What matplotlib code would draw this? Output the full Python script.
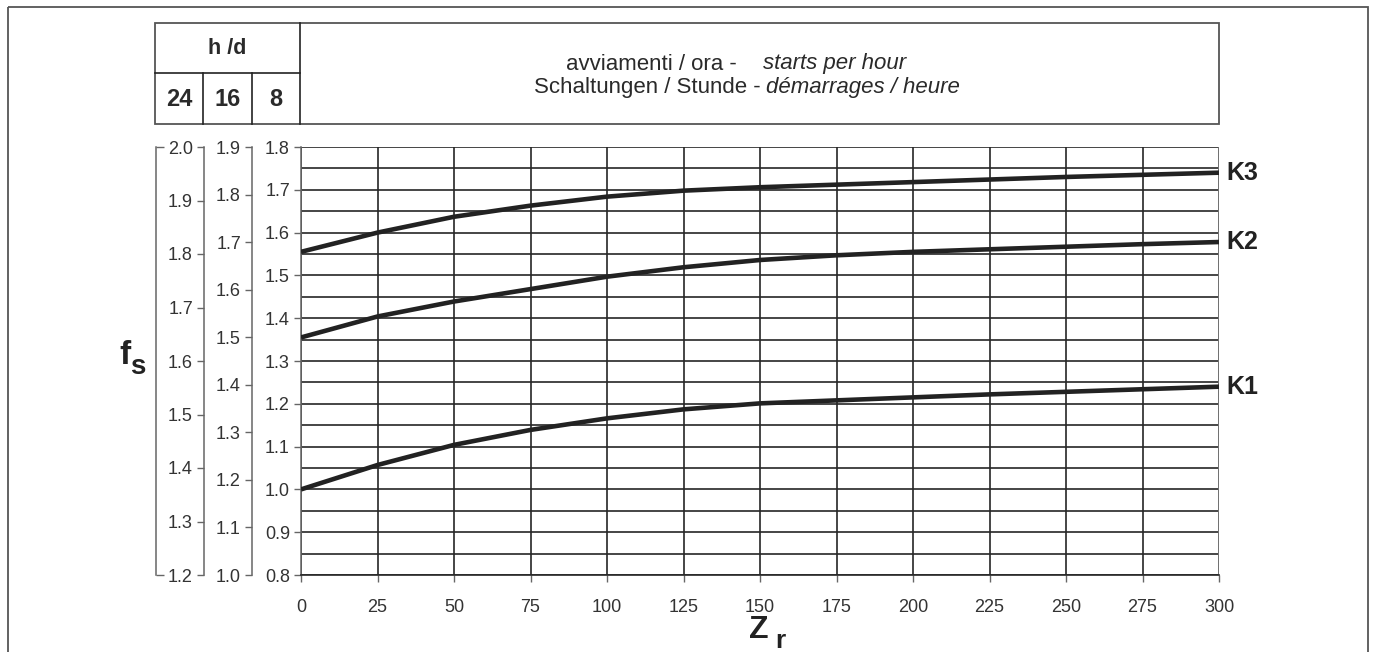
import matplotlib
matplotlib.use("Agg")
import matplotlib.pyplot as plt
from matplotlib.patches import Rectangle

# ------------------------------------------------------------
# Data
# ------------------------------------------------------------
zr = [0, 25, 50, 75, 100, 125, 150, 175, 200, 225, 250, 275, 300]
k1 = [1.000, 1.057, 1.104, 1.139, 1.166, 1.187, 1.201, 1.208, 1.215, 1.222, 1.228, 1.234, 1.240]
k2 = [1.355, 1.404, 1.439, 1.468, 1.497, 1.519, 1.536, 1.547, 1.555, 1.561, 1.567, 1.573, 1.578]
k3 = [1.555, 1.600, 1.637, 1.663, 1.684, 1.698, 1.706, 1.712, 1.718, 1.724, 1.730, 1.735, 1.740]
curve_names = ["K1", "K2", "K3"]

x_ticks = [0, 25, 50, 75, 100, 125, 150, 175, 200, 225, 250, 275, 300]
# three fs scales: 8 h/d (main), 16 h/d, 24 h/d
scale_8 = [0.8, 0.9, 1.0, 1.1, 1.2, 1.3, 1.4, 1.5, 1.6, 1.7, 1.8]
scale_16 = [1.0, 1.1, 1.2, 1.3, 1.4, 1.5, 1.6, 1.7, 1.8, 1.9]
scale_24 = [1.2, 1.3, 1.4, 1.5, 1.6, 1.7, 1.8, 1.9, 2.0]
hours = ["24", "16", "8"]

plt.rcParams['font.family'] = ['Liberation Sans', 'DejaVu Sans']

W, H = 1374, 652
fig = plt.figure(figsize=(W / 100, H / 100), dpi=100)

# background overlay in pixel coordinates for frame and header table
bg = fig.add_axes([0, 0, 1, 1], zorder=0)
bg.set_xlim(0, W)
bg.set_ylim(H, 0)
bg.axis('off')

frame_col = '#555555'
bg.add_patch(Rectangle((8, 7), 1360, 660, fill=False, ec=frame_col, lw=1.3))

# header table
tl, tr, tt, tm, tb = 155, 1219, 23, 73, 124
col_x = [155, 203, 252, 300]
bg.add_patch(Rectangle((tl, tt), tr - tl, tb - tt, fill=False, ec=frame_col, lw=1.3))
bg.plot([300, 300], [tt, tb], color='#222222', lw=1.2)
bg.plot([tl, 300], [tm, tm], color='#222222', lw=1.2)
for cx in col_x[1:3]:
    bg.plot([cx, cx], [tm, tb], color='#222222', lw=1.2)
bg.text((tl + 300) / 2, (tt + tm) / 2 + 1, "h /d", fontsize=15.5, fontweight='bold',
        ha='center', va='center', color='#2a2a2a')
for i, hval in enumerate(hours):
    bg.text((col_x[i] + col_x[i + 1]) / 2, (tm + tb) / 2 + 1, hval, fontsize=17,
            fontweight='bold', ha='center', va='center', color='#2a2a2a')

hdr = dict(fontsize=16, va='center', color='#2a2a2a')
bg.text(737, 64, "avviamenti / ora -", ha='right', **hdr)
bg.text(763, 64, "starts per hour", ha='left', style='italic', **hdr)
bg.text(761, 88, "Schaltungen / Stunde -", ha='right', **hdr)
bg.text(766, 88, "démarrages / heure", ha='left', style='italic', **hdr)

# axis labels
bg.text(119, 356, "f", fontsize=24, fontweight='bold', ha='left', va='center', color='#222222')
bg.text(130, 367, "s", fontsize=20, fontweight='bold', ha='left', va='center', color='#222222')
bg.text(749, 630, "Z", fontsize=23, fontweight='bold', ha='left', va='center', color='#222222')
bg.text(775, 641, "r", fontsize=19, fontweight='bold', ha='left', va='center', color='#222222')

# ------------------------------------------------------------
# Main plot
# ------------------------------------------------------------
x0, x1, y0, y1 = 301, 1219, 147, 575
pos = [x0 / W, (H - y1) / H, (x1 - x0) / W, (y1 - y0) / H]
ax = fig.add_axes(pos, zorder=2)
ax.set_facecolor('none')
ax.set_xlim(0, 300)
ax.set_ylim(0.8, 1.8)

grid_col = '#262626'
for xv in x_ticks:
    ax.axvline(xv, color=grid_col, lw=1.2, zorder=1)
for j in range(len(scale_8) - 1):
    ax.axhline(scale_8[j], color=grid_col, lw=1.2, zorder=1)
    ax.axhline((scale_8[j] + scale_8[j + 1]) / 2, color=grid_col, lw=1.2, zorder=1)
ax.axhline(scale_8[-1], color=grid_col, lw=1.2, zorder=1)

for yvals, name in zip([k1, k2, k3], curve_names):
    ax.plot(zr, yvals, color='#222222', lw=3.3, zorder=3, solid_capstyle='butt')
    ax.annotate(name, xy=(300, yvals[-1]), xytext=(7, 0), textcoords='offset pixels',
                fontsize=18, fontweight='bold', va='center', ha='left', color='#222222',
                annotation_clip=False)

ax.set_xticks(x_ticks)
ax.set_yticks(scale_8)
ax.set_yticklabels([f"{v:.1f}" for v in scale_8])
ax.tick_params(axis='both', direction='out', length=5, width=1, color='#666666',
               labelsize=13, labelcolor='#333333')
ax.tick_params(axis='x', pad=12)
ax.tick_params(axis='y', pad=3)
for s in ['top', 'right']:
    ax.spines[s].set_visible(False)
ax.spines['left'].set_color('#666666')
ax.spines['bottom'].set_color(grid_col)
ax.spines['left'].set_linewidth(1.1)
ax.spines['bottom'].set_linewidth(1.2)
ax.axvline(300, color='#777777', lw=1.3, zorder=2)


def side_scale(offset_px, lo, hi, ticks, labels=True, direction='out'):
    a = fig.add_axes(pos, zorder=1)
    a.set_facecolor('none')
    a.set_ylim(lo, hi)
    a.set_xticks([])
    for s in ['top', 'right', 'bottom']:
        a.spines[s].set_visible(False)
    a.spines['left'].set_position(('axes', offset_px / (x1 - x0)))
    a.spines['left'].set_color('#666666')
    a.spines['left'].set_linewidth(1.1)
    a.set_yticks(ticks)
    if labels:
        a.set_yticklabels([f"{v:.1f}" for v in ticks])
    else:
        a.set_yticklabels([])
    a.tick_params(axis='y', direction=direction, length=6 if direction == 'in' else 5,
                  width=1, color='#666666', labelsize=13, labelcolor='#333333', pad=3)
    return a


side_scale(252 - x0, 1.0, 1.9, scale_16)
side_scale(204 - x0, 1.2, 2.0, scale_24)
side_scale(156 - x0, 1.2, 2.0, [1.2, 2.0], labels=False, direction='in')

fig.savefig("out.png", dpi=100)
